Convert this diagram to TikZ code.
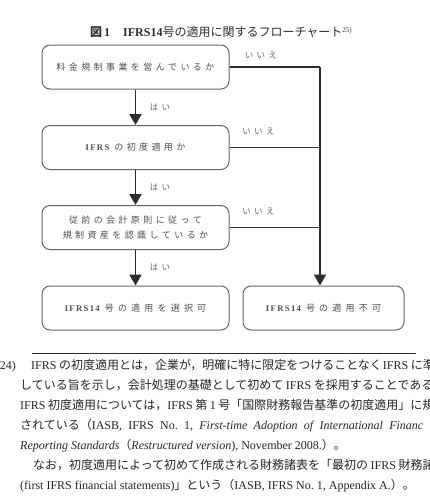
\documentclass[tikz,border=0pt]{standalone}
\usepackage{fontspec}
\setmainfont{Liberation Serif}
\newfontfamily\jp{Noto Sans CJK JP}
\usetikzlibrary{arrows.meta}
\definecolor{boxtxt}{HTML}{505050}
\definecolor{boxline}{HTML}{666666}
\definecolor{lineC}{HTML}{2E2E2E}
\definecolor{lblC}{HTML}{666666}
\definecolor{fnC}{HTML}{262626}
\newdimen\lsamt
\def\lsend{}
\def\lsA#1{\ifx#1\lsend\else#1\kern\lsamt\expandafter\lsA\fi}
\newcommand\ls[2][3.4pt]{\lsamt=#1\relax\lsA#2\lsend\unkern}
\newcommand\ifrs[1]{{\fontsize{8.7}{10}\selectfont\bfseries\ls[1.3pt]{#1}}}
\tikzset{
  box/.style={draw=boxline, line width=1pt, rounded corners=8pt,
    minimum width=187pt, minimum height=44pt, inner sep=0pt,
    text=boxtxt, font=\fontsize{9}{15.5}\selectfont, align=center},
  conn/.style={draw=lineC, line width=1.9pt},
  arr/.style={conn, -{Triangle[width=12pt,length=11pt]}},
  lbl/.style={text=lblC, font=\jp\fontsize{8.5}{10}\selectfont, inner sep=0pt},
  fn/.style={anchor=base west, inner sep=0pt, text=fnC, font=\fontsize{12}{14}\selectfont},
}
\begin{document}
\begin{tikzpicture}[x=1pt,y=-1pt]
\useasboundingbox (0,0) rectangle (430,499);
\clip (0,0) rectangle (430,499);
\fill[white] (0,0) rectangle (430,499);
% title
\node[anchor=base west, inner sep=0pt, text=lineC, font=\fontsize{12}{14}\selectfont] (title) at (90,36)
  {{\jp\bfseries 図}\,{\bfseries 1}\hspace{13pt}{\bfseries IFRS14}{\jp 号の適用に関するフローチャート}\raisebox{4pt}{\fontsize{7}{8}\selectfont 25)}};
% boxes
\node[box] (b1) at (135.5,67) {\jp\ls{料金規制事業を営んでいるか}};
\node[box] (b2) at (135.5,147.5) {\ifrs{IFRS}\hspace{5pt}{\jp\ls{の初度適用か}}};
\node[box] (b3) at (135.5,227.5) {\jp\ls{従前の会計原則に従って}\\\jp\ls{規制資産を認識しているか}};
\node[box] (b4) at (135.5,308) {\ifrs{IFRS14}\hspace{5pt}{\jp\ls[4.2pt]{号の適用を選択可}}};
\node[box, minimum width=161pt] (b5) at (323.5,308) {\ifrs{IFRS14}\hspace{5pt}{\jp\ls[4.2pt]{号の適用不可}}};
% yes arrows
\draw[arr] (b1) -- (b2);
\draw[arr] (b2) -- (b3);
\draw[arr] (b3) -- (b4);
% no connectors
\coordinate (r1) at (320,67);
\draw[conn] (b1.east) -- (r1);
\draw[arr] (r1) -- (r1 |- b5.north);
\draw[conn] (b2.east) -- (b2.east -| r1);
\draw[conn] (b3.east) -- (b3.east -| r1);
% labels
\node[lbl] (n1) at (261,55) {\ls[3.5pt]{いいえ}};
\node[lbl] (n2) at (258.5,131) {\ls[3.5pt]{いいえ}};
\node[lbl] (n3) at (258.5,211) {\ls[3.5pt]{いいえ}};
\node[lbl] (y1) at (160,107) {\ls[3.5pt]{はい}};
\node[lbl] (y2) at (160,187) {\ls[3.5pt]{はい}};
\node[lbl] (y3) at (160,267) {\ls[3.5pt]{はい}};
% footnote rule
\coordinate (rl) at (32,353);
\coordinate (rr) at (416,353);
\draw[draw=lineC, line width=0.8pt] (rl) -- (rr);
% footnote text
\node[fn, anchor=base east] (f0) at (16,369.5) {24)};
\node[fn] (f1) at (31,369.5) {IFRS\hspace{2.5pt}{\jp の初度適用とは，企業が，明確に特に限定をつけることなく}\hspace{1pt}IFRS\hspace{2.5pt}{\jp に準}};
\node[fn] (f2) at (20,389.5) {{\jp している旨を示し，会計処理の基礎として初めて}\hspace{2.5pt}IFRS\hspace{2.5pt}{\jp を採用することである}};
\node[fn] (f3) at (20,409.5) {IFRS\hspace{2.5pt}{\jp 初度適用については，}IFRS\hspace{2.5pt}{\jp 第}\hspace{2.5pt}1\hspace{2.5pt}{\jp 号「国際財務報告基準の初度適用」に規}};
\node[fn] (f4) at (20,429.5) {\spaceskip=6.3pt{\jp されている（}IASB, IFRS No.~1, \textit{First-time Adoption of International Financ}};
\node[fn] (f5) at (20,449.5) {\textit{Reporting Standards}{\jp （}\textit{Restructured version}), November 2008.{\jp ）。}};
\node[fn] (f6) at (33,469.5) {{\jp なお，初度適用によって初めて作成される財務諸表を「最初の}\hspace{2.5pt}IFRS\hspace{2.5pt}{\jp 財務諸}};
\node[fn] (f7) at (20,489.5) {(first IFRS financial statements){\jp 」という（}IASB, IFRS No.~1, Appendix A.{\jp ）。}};
\end{tikzpicture}
\end{document}
